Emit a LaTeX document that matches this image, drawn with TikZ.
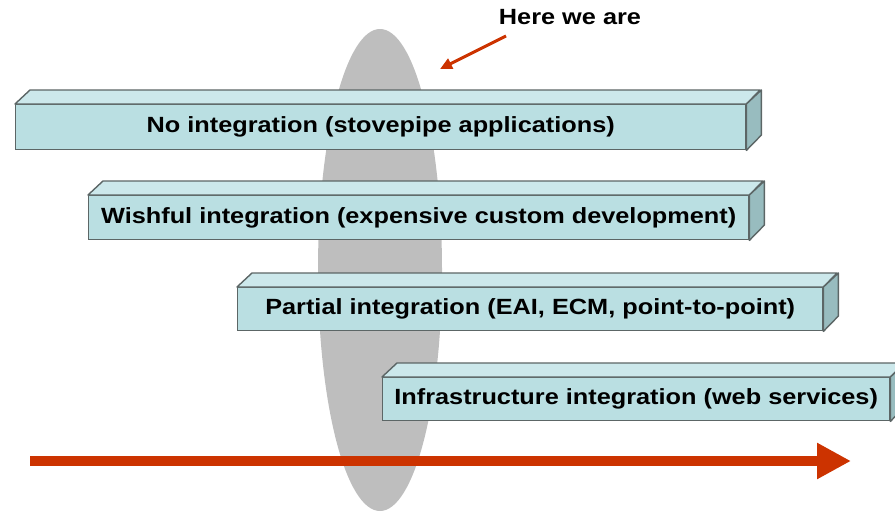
\documentclass[tikz,border=0pt]{standalone}
\usepackage{fontspec}
\setmainfont[FakeStretch=1.15]{Liberation Sans}
\usetikzlibrary{arrows.meta}
\definecolor{frontc}{HTML}{BADFE2}
\definecolor{topc}{HTML}{CCE8EB}
\definecolor{sidec}{HTML}{98BCBF}
\definecolor{edgec}{HTML}{5C6666}
\definecolor{arrowred}{HTML}{CC3300}
\definecolor{ovalc}{HTML}{BEBEBE}
\newcommand\slab[6]{%
  \node[slabface, minimum width=#4pt, minimum height=#5pt, anchor=north west] (#1) at (#2,#3) {#6};
  \filldraw[slabedge, fill=topc] (#1.north west) -- ++(15,-14) -- ++(#4,0) -- (#1.north east) -- cycle;
  \filldraw[slabedge, fill=sidec] (#1.north east) -- ++(15,-14) -- ++(0,#5) -- (#1.south east) -- cycle;
}
\begin{document}
\begin{tikzpicture}[x=1pt,y=-1pt,
  slabface/.style={draw=edgec, line width=1.4pt, fill=frontc, inner sep=0pt,
    font=\fontsize{22}{24}\selectfont\bfseries, text=black},
  slabedge/.style={draw=edgec, line width=1.4pt, line join=round},
  bigarrow/.style={draw=arrowred, line width=10pt, -{Triangle[length=34pt,width=34pt]}},
  smallarrow/.style={draw=arrowred, line width=3pt, -{Triangle[length=12pt,width=11pt]}},
  label/.style={font=\fontsize{22}{24}\selectfont\bfseries, text=black, inner sep=0pt}]
\useasboundingbox (0,0) rectangle (895,514);
\clip (0,0) rectangle (895,514);
\fill[ovalc] (380,270) ellipse (62 and 241);
\slab{b1}{15}{104}{730}{45}{No integration (stovepipe applications)}
\slab{b2}{88}{195}{660}{44}{Wishful integration (expensive custom development)}
\slab{b3}{237}{287}{585}{43}{Partial integration (EAI, ECM, point-to-point)}
\slab{b4}{382}{377}{507}{43}{Infrastructure integration (web services)}
\node[label] (here) at (570,17) {Here we are};
\coordinate (hs) at (506,36);
\coordinate (he) at (440,69);
\draw[smallarrow] (hs) -- (he);
\coordinate (as) at (30,461);
\coordinate (ae) at (851,461);
\draw[bigarrow] (as) -- (ae);
\end{tikzpicture}
\end{document}
